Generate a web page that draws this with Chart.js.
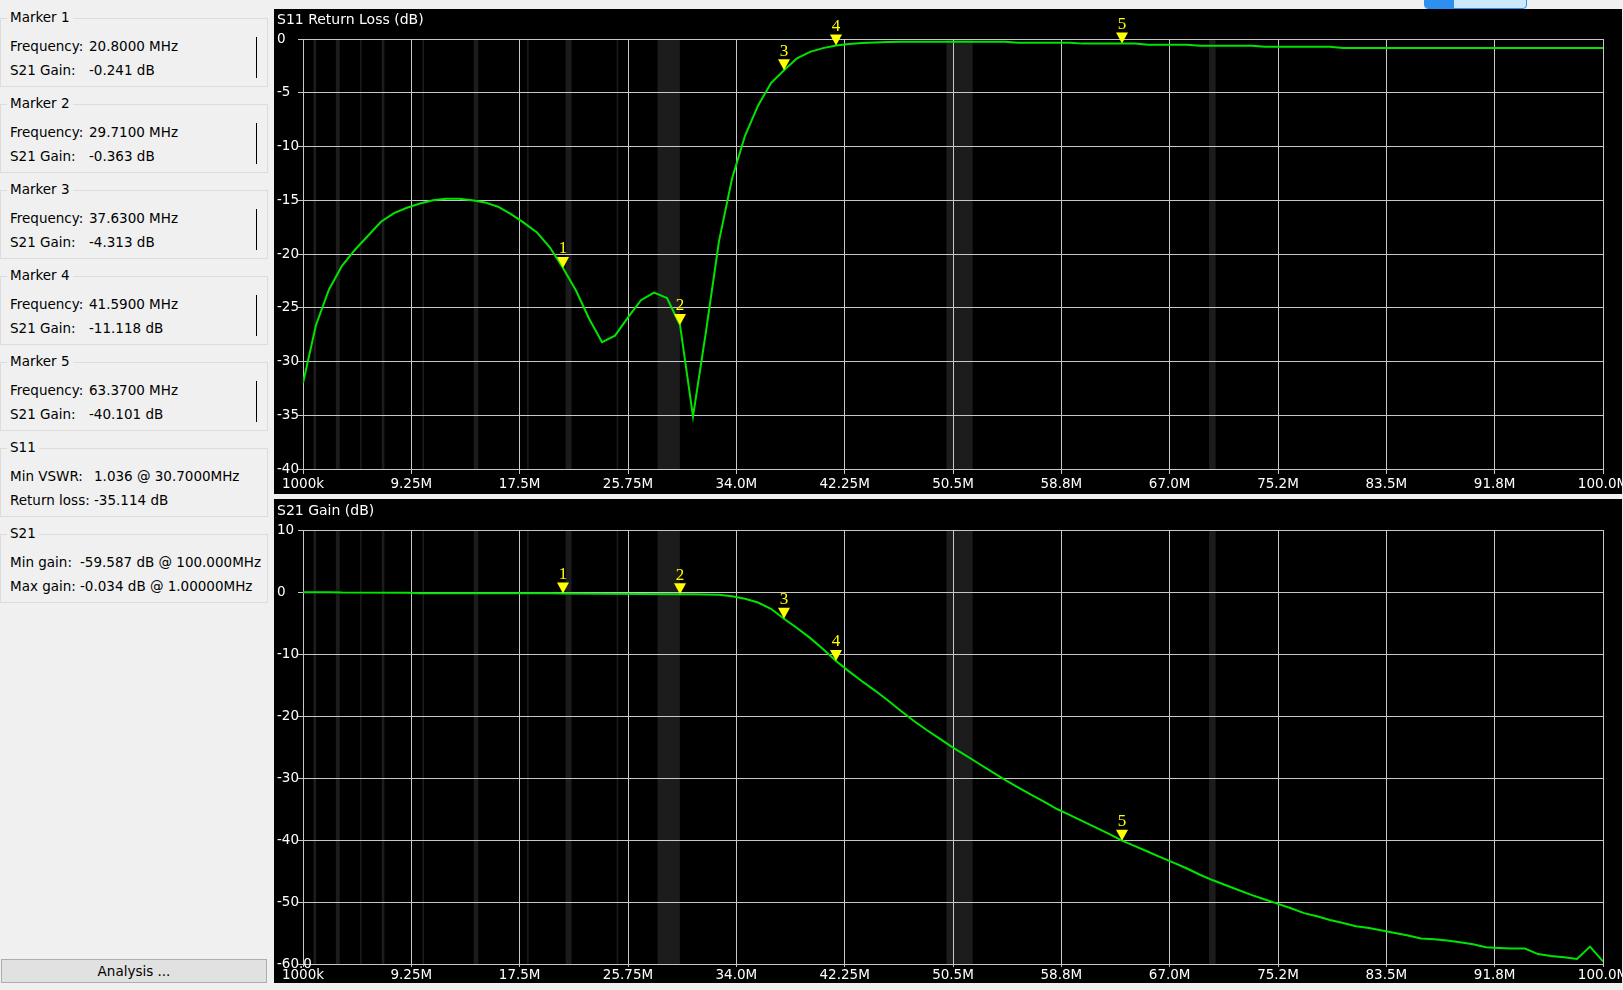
<!DOCTYPE html>
<html>
<head>
<meta charset="utf-8">
<script src="https://cdn.jsdelivr.net/npm/chart.js@4.4.0/dist/chart.umd.min.js"></script>
<style>
  body { margin: 0; width: 1623px; height: 990px; background: #f0f0f0; position: relative; overflow: hidden;
         font-family: "DejaVu Sans", sans-serif; font-size: 13.5px; color: #000; }
  .box { position: absolute; left: 0; width: 268px; height: 69px; border: 1px solid #dcdcdc; box-sizing: border-box; }
  .legend { position: absolute; left: 6px; top: -10px; background: #f0f0f0; padding: 0 3px; line-height: 17px; white-space: pre; }
  .txt { position: absolute; white-space: pre; line-height: 17px; }
  .bar { position: absolute; left: 255px; top: 18px; width: 1px; height: 41px; background: #000; }
  .panel { position: absolute; left: 274px; width: 1348px; background: #000; }
  .panel canvas { display: block; }
  #btn { position: absolute; left: 1px; top: 959px; width: 266px; height: 24px; box-sizing: border-box; background: #e1e1e1;
         border: 1px solid #adadad; text-align: center; line-height: 22px; }
  #tag { position: absolute; left: 1424px; top: -2px; width: 103px; height: 11px; box-sizing: border-box; background: #cce8ff;
         border: 1px solid #2d8ff0; border-radius: 0 0 4px 4px; overflow: hidden; }
  #tag div { position: absolute; left: 0; top: 0; width: 29px; height: 11px; background: #2d8ff0; }
</style>
</head>
<body>
<div id="side"></div>
<div id="btn">Analysis ...</div>
<div id="tag"><div></div></div>
<div class="panel" style="top:9px;height:485px"><canvas id="s11" width="1348" height="485"></canvas></div>
<div class="panel" style="top:499px;height:484px"><canvas id="s21" width="1348" height="484"></canvas></div>
<script>
// frequency axis (MHz)
const freqTicks = [1, 9.25, 17.5, 25.75, 34, 42.25, 50.5, 58.75, 67, 75.25, 83.5, 91.75, 100];
const freqTickLabels = ["1000k", "9.25M", "17.5M", "25.75M", "34.0M", "42.25M", "50.5M", "58.8M", "67.0M", "75.2M", "83.5M", "91.8M", "100.0M"];

const s11Ticks = [0, -5, -10, -15, -20, -25, -30, -35, -40];
const s11TickLabels = ["0", "-5", "-10", "-15", "-20", "-25", "-30", "-35", "-40"];
const s21Ticks = [10, 0, -10, -20, -30, -40, -50, -60];
const s21TickLabels = ["10", "0", "-10", "-20", "-30", "-40", "-50", "-60.0"];

// shaded amateur bands (MHz)
const bandLo = [1.8, 3.5, 5.35, 7.0, 10.1, 14.0, 18.068, 21.0, 24.89, 28.0, 50.0, 70.0];
const bandHi = [2.0, 3.8, 5.45, 7.2, 10.15, 14.35, 18.168, 21.45, 24.99, 29.7, 52.0, 70.5];

// S11 return loss trace
const s11Freq = [1.00, 1.99, 2.98, 3.97, 4.96, 5.95, 6.94, 7.93, 8.92, 9.91, 10.90, 11.89, 12.88, 13.87, 14.86, 15.85,
  16.84, 17.83, 18.82, 19.81, 20.80, 21.79, 22.78, 23.77, 24.76, 25.75, 26.74, 27.73, 28.72, 29.71, 30.70, 31.69,
  32.68, 33.67, 34.66, 35.65, 36.64, 37.63, 38.62, 39.61, 40.60, 41.59, 42.58, 43.57, 44.56, 45.55, 46.54, 54.46,
  55.45, 59.41, 60.40, 64.36, 65.35, 68.32, 69.31, 73.27, 74.26, 79.21, 80.20, 100.00];
const s11Db = [-32.0, -26.6, -23.3, -21.1, -19.6, -18.3, -17.0, -16.2, -15.7, -15.3, -15.0, -14.85, -14.85, -15.0, -15.2, -15.6,
  -16.3, -17.1, -18.0, -19.4, -21.3, -23.4, -26.0, -28.2, -27.6, -25.9, -24.3, -23.6, -24.1, -26.6, -35.1, -27.2,
  -18.8, -13.0, -9.0, -6.2, -4.1, -2.9, -1.8, -1.2, -0.85, -0.6, -0.47, -0.38, -0.32, -0.27, -0.25, -0.25,
  -0.34, -0.34, -0.43, -0.43, -0.53, -0.53, -0.62, -0.62, -0.71, -0.71, -0.84, -0.84];

// S21 gain trace
const s21Freq = [1.00, 2.98, 3.97, 8.92, 9.91, 19.81, 20.80, 29.71, 30.70, 31.69, 32.68, 33.67, 34.66, 35.65, 36.64, 37.63,
  38.62, 39.61, 40.60, 41.59, 42.58, 43.57, 44.56, 45.55, 46.54, 47.53, 48.52, 49.51, 50.50, 51.49, 52.48, 53.47,
  54.46, 55.45, 56.44, 57.43, 58.42, 59.41, 60.40, 61.39, 62.38, 63.37, 64.36, 65.35, 66.34, 67.33, 68.32, 69.31,
  70.30, 71.29, 72.28, 73.27, 74.26, 75.25, 76.24, 77.23, 78.22, 79.21, 80.20, 81.19, 82.18, 83.17, 84.16, 85.15,
  86.14, 87.13, 88.12, 89.11, 90.10, 91.09, 92.08, 93.07, 94.06, 95.05, 96.04, 97.03, 98.02, 99.01, 100.00];
const s21Db = [-0.03, -0.04, -0.1, -0.12, -0.2, -0.22, -0.241, -0.363, -0.37, -0.39, -0.45, -0.7, -1.1, -1.7, -2.7, -4.313,
  -5.8, -7.4, -9.2, -11.118, -12.8, -14.4, -15.9, -17.5, -19.2, -20.8, -22.3, -23.7, -25.1, -26.4, -27.7, -29.0,
  -30.3, -31.5, -32.7, -33.8, -35.0, -36.0, -37.0, -38.0, -39.0, -40.101, -41.0, -41.9, -42.8, -43.7, -44.6, -45.6,
  -46.5, -47.3, -48.1, -48.9, -49.6, -50.3, -51.0, -51.8, -52.3, -52.9, -53.4, -53.9, -54.2, -54.6, -55.0, -55.4,
  -55.9, -56.0, -56.2, -56.5, -56.8, -57.3, -57.4, -57.5, -57.5, -58.4, -58.7, -58.9, -59.2, -57.2, -59.587];

// markers
const markerFreq = [20.8, 29.71, 37.63, 41.59, 63.37];
const markerS11 = [-21.3, -26.6, -2.9, -0.6, -0.43];
const markerS21 = [-0.241, -0.363, -4.313, -11.118, -40.101];

// build the side panel
const side = document.getElementById("side");
const addBox = (i, title, rows, valX, bar) => {
  const b = document.createElement("div");
  b.className = "box";
  b.style.top = (18 + 86 * i) + "px";
  let html = '<span class="legend">' + title + '</span>';
  rows.forEach((r, k) => {
    html += '<span class="txt" style="left:9px;top:' + (19 + 24 * k) + 'px">' + r[0] + '</span>';
    html += '<span class="txt" style="left:' + valX[k] + 'px;top:' + (19 + 24 * k) + 'px">' + r[1] + '</span>';
  });
  if (bar) html += '<div class="bar"></div>';
  b.innerHTML = html;
  side.appendChild(b);
};
markerFreq.forEach((f, i) => {
  addBox(i, "Marker " + (i + 1), [["Frequency:", f.toFixed(4) + " MHz"], ["S21 Gain:", markerS21[i].toFixed(3) + " dB"]], [88, 88], true);
});
addBox(5, "S11", [["Min VSWR:", "1.036 @ 30.7000MHz"], ["Return loss:", "-35.114 dB"]], [93, 93], false);
addBox(6, "S21", [["Min gain:", "-59.587 dB @ 100.000MHz"], ["Max gain:", "-0.034 dB @ 1.00000MHz"]], [79, 79], false);

// background + shaded bands under the grid
const bandsPlugin = {
  id: "bands",
  beforeDraw(chart) {
    const { ctx, chartArea: a, scales: { x } } = chart;
    ctx.save();
    ctx.fillStyle = "#000";
    ctx.fillRect(0, 0, chart.width, chart.height);
    ctx.fillStyle = "#1c1c1c";
    bandLo.forEach((lo, i) => {
      const x0 = x.getPixelForValue(lo);
      const x1 = x.getPixelForValue(bandHi[i]);
      ctx.fillRect(x0, a.top, Math.max(x1 - x0, 1.5), a.bottom - a.top);
    });
    ctx.restore();
  }
};

// yellow numbered marker triangles
const markerPlugin = {
  id: "markers",
  afterDatasetsDraw(chart, args, opts) {
    const { ctx, scales: { x, y } } = chart;
    ctx.save();
    ctx.fillStyle = "#ffff00";
    ctx.font = '17px "Liberation Serif"';
    ctx.textAlign = "center";
    ctx.textBaseline = "middle";
    markerFreq.forEach((f, i) => {
      const px = x.getPixelForValue(f);
      const py = y.getPixelForValue(opts.values[i]);
      ctx.beginPath();
      ctx.moveTo(px - 6, py - 11);
      ctx.lineTo(px + 6, py - 11);
      ctx.lineTo(px, py);
      ctx.closePath();
      ctx.fill();
      ctx.fillText(String(i + 1), px, py - 19);
    });
    ctx.restore();
  }
};

const font = { family: "DejaVu Sans", size: 13.5 };
const gridColor = "#c8c8c8";
// tick labels may run past the axis box (e.g. "-60.0"), so don't clip them
const noClip = s => { s._computeLabelArea = () => undefined; };

function makeChart(id, title, titlePad, freq, vals, yMin, yMax, yTicks, yLabels, mVals, xHeight, xPad, xTickLen) {
  return new Chart(document.getElementById(id), {
    type: "line",
    data: {
      datasets: [{
        data: freq.map((f, i) => ({ x: f, y: vals[i] })),
        borderColor: "#00e400",
        borderWidth: 2,
        pointRadius: 0,
        tension: 0,
        fill: false
      }]
    },
    options: {
      responsive: false,
      animation: false,
      events: [],
      layout: { padding: { left: 3, right: 19, top: 0, bottom: 0 } },
      plugins: {
        legend: { display: false },
        tooltip: { enabled: false },
        title: {
          display: true, text: title, align: "start", color: "#fff",
          font: { family: "DejaVu Sans", size: 14, weight: "normal" },
          padding: titlePad
        },
        markers: { values: mVals }
      },
      scales: {
        x: {
          type: "linear", min: 1, max: 100,
          afterBuildTicks: s => { s.ticks = freqTicks.map(v => ({ value: v })); },
          afterFit: s => { s.height = xHeight; s.paddingLeft = 0; s.paddingRight = 0; noClip(s); },
          ticks: {
            color: "#fff", font, padding: xPad, maxRotation: 0, autoSkip: false,
            callback: v => freqTickLabels[freqTicks.indexOf(v)]
          },
          grid: { color: gridColor, tickLength: xTickLen },
          border: { color: gridColor }
        },
        y: {
          min: yMin, max: yMax,
          afterBuildTicks: s => { s.ticks = yTicks.map(v => ({ value: v })); },
          afterFit: s => { s.width = 26; noClip(s); },
          ticks: {
            color: "#fff", font, crossAlign: "far", autoSkip: false,
            callback: v => yLabels[yTicks.indexOf(v)]
          },
          grid: { color: gridColor, tickLength: 5 },
          border: { color: gridColor }
        }
      }
    },
    plugins: [bandsPlugin, markerPlugin]
  });
}

makeChart("s11", "S11 Return Loss (dB)", { top: 3, bottom: 10.2 }, s11Freq, s11Db, -40, 0,
  s11Ticks, s11TickLabels, markerS11, 25, 2.4, 5);
makeChart("s21", "S21 Gain (dB)", { top: 4, bottom: 10.2 }, s21Freq, s21Db, -60, 10,
  s21Ticks, s21TickLabels, markerS21, 19, 0.4, 3);
</script>
</body>
</html>
